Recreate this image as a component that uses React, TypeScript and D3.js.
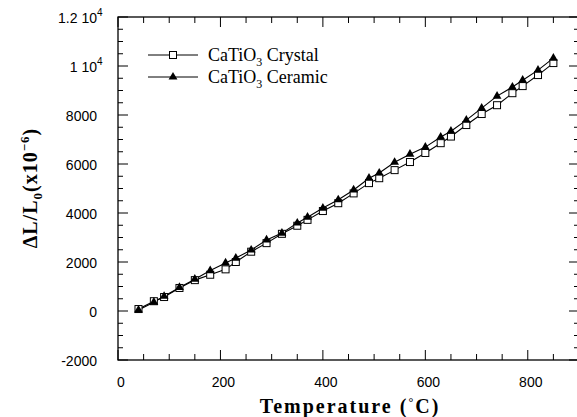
import React from 'react';
import * as d3 from 'd3';

// temperature (C) and dL/L0 (x1e-6)
const temps = [40, 70, 90, 120, 150, 180, 210, 230, 260, 290, 320, 350, 370, 400, 430, 460, 490, 510, 540, 570, 600, 630, 650, 680, 710, 740, 770, 790, 820, 850];
const crystal = [80, 400, 570, 940, 1260, 1480, 1700, 2000, 2420, 2770, 3150, 3480, 3720, 4080, 4400, 4800, 5220, 5420, 5750, 6080, 6450, 6850, 7120, 7590, 8040, 8400, 8890, 9180, 9630, 10120];
const ceramic = [40, 360, 600, 960, 1300, 1650, 1960, 2160, 2490, 2900, 3180, 3590, 3830, 4200, 4540, 4940, 5420, 5630, 6070, 6400, 6690, 7100, 7340, 7790, 8280, 8770, 9140, 9420, 9830, 10320];

const xTicks = [0, 200, 400, 600, 800];
const yTicks = [-2000, 0, 2000, 4000, 6000, 8000, 10000, 12000];
const yTickLabels = ['-2000', '0', '2000', '4000', '6000', '8000', '1 10', '1.2 10'];
const yTickExp = ['', '', '', '', '', '', '4', '4'];

const W = 577;
const H = 417;
const left = 118, right = 579, top = 17, bottom = 360;

export default function App() {
  const x = d3.scaleLinear().domain([0, 900]).range([left, right]);
  const y = d3.scaleLinear().domain([-2000, 12000]).range([bottom, top]);

  const xMinor = d3.range(0, 901, 50);
  const yMinor = d3.range(-2000, 12001, 500);

  const line = d3.line<number>().x((d, i) => x(temps[i])).y(d => y(d));

  const sans = '"Liberation Sans", Arial, sans-serif';
  const serif = '"Liberation Serif", "Times New Roman", serif';

  const tri = d3.symbol().type(d3.symbolTriangle).size(34)();

  return (
    <div style={{ position: 'absolute', left: 0, top: 0 }}>
      <svg width={W} height={H} style={{ display: 'block', background: '#fff' }}>
        {/* frame */}
        <rect x={left} y={top} width={right - left} height={bottom - top} fill="none" stroke="#000" strokeWidth={1.3} />

        {/* x ticks, bottom + top */}
        {xMinor.map(t => {
          const len = t % 200 === 0 ? 10 : 6;
          return (
            <g key={'xt' + t}>
              <line x1={x(t)} x2={x(t)} y1={bottom} y2={bottom - len} stroke="#000" strokeWidth={1} />
              <line x1={x(t)} x2={x(t)} y1={top} y2={top + len} stroke="#000" strokeWidth={1} />
            </g>
          );
        })}
        {/* y ticks, left + right */}
        {yMinor.map(t => {
          const len = t % 2000 === 0 ? 10 : 5;
          return (
            <g key={'yt' + t}>
              <line x1={left} x2={left + len} y1={y(t)} y2={y(t)} stroke="#000" strokeWidth={1} />
              <line x1={right} x2={right - len} y1={y(t)} y2={y(t)} stroke="#000" strokeWidth={1} />
            </g>
          );
        })}

        {/* tick labels */}
        {xTicks.map(t => (
          <text key={'xl' + t} x={x(t) + 3} y={387} textAnchor="middle" fontFamily={sans} fontSize={14}>{t}</text>
        ))}
        {yTicks.map((t, i) => (
          <text key={'yl' + t} x={97} y={y(t) + 6} textAnchor="end" fontFamily={sans} fontSize={14}>
            {yTickLabels[i]}
          </text>
        ))}
        {yTicks.map((t, i) => yTickExp[i] ? (
          <text key={'ye' + t} x={97} y={y(t) - 1} fontFamily={sans} fontSize={10}>{yTickExp[i]}</text>
        ) : null)}

        {/* series */}
        <path d={line(crystal) || ''} fill="none" stroke="#000" strokeWidth={1.1} />
        <path d={line(ceramic) || ''} fill="none" stroke="#000" strokeWidth={1.1} />
        {crystal.map((v, i) => (
          <rect key={'s' + i} x={x(temps[i]) - 3.5} y={y(v) - 3.5} width={7} height={7} fill="#fff" stroke="#000" strokeWidth={1} />
        ))}
        {ceramic.map((v, i) => (
          <path key={'t' + i} d={tri || ''} transform={`translate(${x(temps[i])},${y(v)})`} fill="#000" />
        ))}

        {/* legend */}
        <line x1={148} x2={198} y1={55} y2={55} stroke="#000" strokeWidth={1} />
        <rect x={169.5} y={51.5} width={7} height={7} fill="#fff" stroke="#000" strokeWidth={1} />
        <text x={208} y={61} fontFamily={serif} fontSize={18}>
          CaTiO<tspan fontSize={12} dy={5}>3</tspan><tspan dy={-5}> Crystal</tspan>
        </text>
        <line x1={148} x2={198} y1={77} y2={77} stroke="#000" strokeWidth={1} />
        <path d={tri || ''} transform="translate(173,77)" fill="#000" />
        <text x={208} y={83} fontFamily={serif} fontSize={18}>
          CaTiO<tspan fontSize={12} dy={5}>3</tspan><tspan dy={-5}> Ceramic</tspan>
        </text>

        {/* axis titles */}
        <text x={350} y={413} textAnchor="middle" fontFamily={serif} fontSize={20} fontWeight="bold" letterSpacing={2}>
          Temperature  (<tspan fontSize={12} dy={-7}>°</tspan><tspan dy={7}>C)</tspan>
        </text>
        <text transform="translate(37,188) rotate(-90)" textAnchor="middle" fontFamily={serif} fontSize={20} fontWeight="bold" letterSpacing={1}>
          ΔL/L<tspan fontSize={13} dy={5}>0</tspan><tspan dy={-5}>(x10</tspan><tspan fontSize={13} dy={-8}>−6</tspan><tspan dy={8}>)</tspan>
        </text>
      </svg>
    </div>
  );
}
